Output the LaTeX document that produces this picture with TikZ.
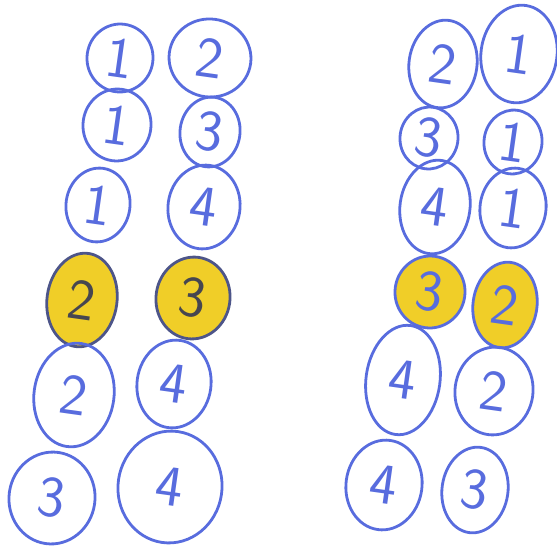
\documentclass[tikz,border=0pt]{standalone}
\usepackage{xcolor}
\definecolor{penBlue}{RGB}{88,108,222}
\definecolor{penYellow}{RGB}{240,206,40}
\definecolor{penGrey}{RGB}{70,70,80}
\usepackage{tikz}
\usetikzlibrary{shapes.geometric}

\begin{document}
\begin{tikzpicture}[x=1pt,y=-1pt,
  c/.style={ellipse,draw=penBlue,line width=2.8pt,inner sep=0pt,text=penBlue,font=\fontsize{58}{58}\sffamily,rotate=-8},
  hl/.style={c,fill=penYellow},
  hg/.style={hl,draw=penGrey!60!penBlue,text=penGrey}]
  \useasboundingbox (0,0) rectangle (557,547);
  % left pair of strands
  \node[c,minimum width=66,minimum height=68] (la1) at (120,58) {1};
  \node[c,minimum width=68,minimum height=72] (la2) at (117,125) {1};
  \node[c,minimum width=64,minimum height=74] (la3) at (98,205) {1};
  \node[hg,minimum width=70,minimum height=94] (la4) at (82,300) {2};
  \node[c,minimum width=80,minimum height=104] (la5) at (74,395) {2};
  \node[c,minimum width=86,minimum height=92] (la6) at (52,498) {3};
  \node[c,minimum width=82,minimum height=78] (lb1) at (210,58) {2};
  \node[c,minimum width=60,minimum height=70] (lb2) at (210,132) {3};
  \node[c,minimum width=72,minimum height=84] (lb3) at (204,207) {4};
  \node[hg,minimum width=74,minimum height=82] (lb4) at (193,298) {3};
  \node[c,minimum width=74,minimum height=88] (lb5) at (174,384) {4};
  \node[c,minimum width=104,minimum height=112] (lb6) at (170,487) {4};
  % right pair of strands
  \node[c,minimum width=68,minimum height=88] (ra1) at (443,64) {2};
  \node[c,minimum width=58,minimum height=62] (ra2) at (429,138) {3};
  \node[c,minimum width=70,minimum height=94] (ra3) at (435,207) {4};
  \node[hl,minimum width=70,minimum height=72] (ra4) at (430,292) {3};
  \node[c,minimum width=74,minimum height=110] (ra5) at (403,380) {4};
  \node[c,minimum width=76,minimum height=90] (ra6) at (384,485) {4};
  \node[c,minimum width=76,minimum height=98] (rb1) at (519,54) {1};
  \node[c,minimum width=58,minimum height=64] (rb2) at (513,142) {1};
  \node[c,minimum width=66,minimum height=80] (rb3) at (513,208) {1};
  \node[hl,minimum width=64,minimum height=86] (rb4) at (505,305) {2};
  \node[c,minimum width=78,minimum height=88] (rb5) at (494,391) {2};
  \node[c,minimum width=66,minimum height=86] (rb6) at (475,490) {3};
\end{tikzpicture}
\end{document}
